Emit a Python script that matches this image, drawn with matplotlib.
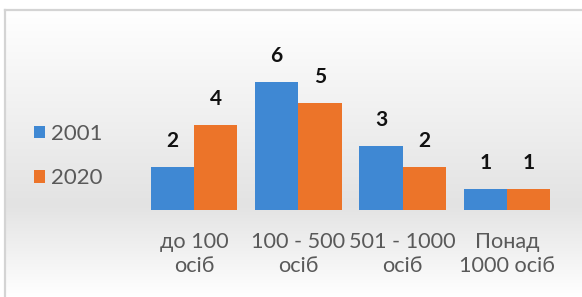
import matplotlib
matplotlib.use("Agg")
import matplotlib.pyplot as plt
import numpy as np
from matplotlib.colors import LinearSegmentedColormap
from matplotlib.lines import Line2D

categories = ["до 100\nосіб", "100 - 500\nосіб", "501 - 1000\nосіб", "Понад\n1000 осіб"]
years = ["2001", "2020"]
values_2001 = [2, 6, 3, 1]
values_2020 = [4, 5, 2, 1]

BLUE = "#3F88D3"
ORANGE = "#EC7429"
GRAY_TEXT = "#595959"

plt.rcParams["font.family"] = ["Lato", "DejaVu Sans"]

W, H = 582, 297
fig = plt.figure(figsize=(W / 100, H / 100), dpi=100)

# фон з вертикальним градієнтом
bg = fig.add_axes([5 / W, 0, 1 - 5 / W, 1 - 10 / H])
cmap = LinearSegmentedColormap.from_list(
    "bg", [(0, "#ffffff"), (0.68, "#e3e3e3"), (1, "#ffffff")]
)
grad = np.linspace(0, 1, 256).reshape(-1, 1)
bg.imshow(grad, aspect="auto", cmap=cmap, extent=[0, 1, 0, 1], origin="upper")
bg.axis("off")

# рамка (видно лише верх і лівий край)
fig.add_artist(Line2D([4.5 / W, 1], [1 - 9.5 / H] * 2, color="#d4d4d4", lw=1.6))
fig.add_artist(Line2D([4.5 / W] * 2, [0, 1 - 9.5 / H], color="#d4d4d4", lw=1.6))

ax = fig.add_axes([142 / W, 87 / H, 417 / W, 170 / H])
ax.patch.set_visible(False)

x = np.arange(len(categories))
w = 0.416
b1 = ax.bar(x - w / 2, values_2001, w, color=BLUE, label=years[0])
b2 = ax.bar(x + w / 2, values_2020, w, color=ORANGE, label=years[1])

for bars in (b1, b2):
    for rect in bars:
        ax.annotate(
            f"{rect.get_height():g}",
            (rect.get_x() + rect.get_width() / 2, rect.get_height()),
            xytext=(0, 26), textcoords="offset pixels",
            ha="center", va="center", fontsize=15, fontweight="bold",
            color="#111111",
        )

ax.set_xlim(-0.5, len(categories) - 0.5)
ax.set_ylim(0, 7.97)
ax.set_yticks([])
ax.set_xticks(x)
ax.set_xticklabels(categories, fontsize=15.6, color=GRAY_TEXT, linespacing=1.25)
ax.tick_params(axis="x", length=0, pad=15.5)
for s in ax.spines.values():
    s.set_visible(False)

fig.legend(
    handles=[b1, b2], labels=years,
    loc="center left", bbox_to_anchor=(34 / W, 1 - 156 / H),
    frameon=False, fontsize=16, labelcolor=GRAY_TEXT,
    handlelength=0.5, handleheight=0.5, handletextpad=0.25,
    labelspacing=1.1, borderpad=0, borderaxespad=0,
)

fig.savefig("out.png", dpi=100)
